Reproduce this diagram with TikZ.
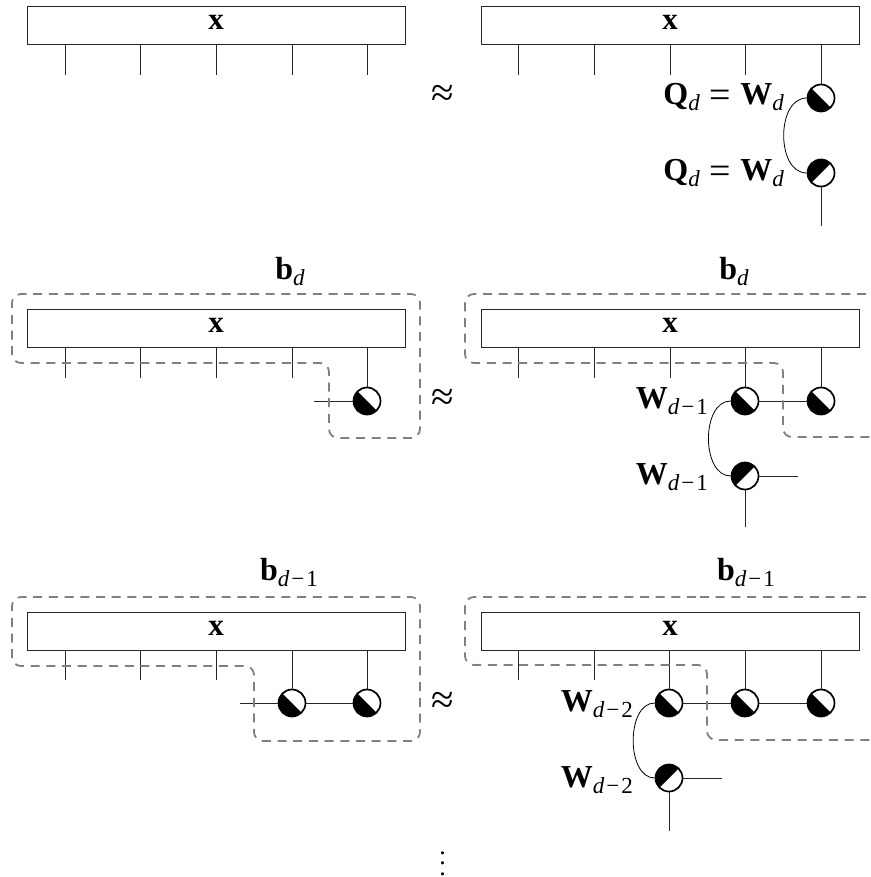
\documentclass[tikz,border=0pt]{standalone}
\usepackage{fontspec}
\usepackage{graphicx}
\setmainfont{Liberation Serif}
\usetikzlibrary{calc}
\newcommand{\sbs}[1]{\raisebox{-6pt}{\fontsize{23}{23}\selectfont #1}}
\newcommand{\dsub}{\textit{d}}
\newcommand{\dm}[1]{\textit{d}\kern2pt−\kern2pt#1}
\newcommand{\Qd}{\textbf{Q}\sbs{\dsub}\kern10pt\raisebox{-2.4pt}{\fontsize{38}{38}\selectfont=}\kern9pt\textbf{W}\sbs{\dsub}}
\newcommand{\Wsub}[1]{\textbf{W}\sbs{\dm{#1}}}
\tikzset{
  x=1pt,y=-1pt,
  wire/.style={line width=1pt,black!85},
  tensorbox/.style={draw=black!85,line width=1pt,minimum width=378pt,minimum height=38pt,inner sep=0pt,text height=12pt,text depth=4pt,font=\fontsize{31}{31}\selectfont\bfseries},
  isodown/.style={circle,draw,line width=1.7pt,minimum size=27pt,inner sep=0pt,fill=white,
    path picture={\fill[black] (path picture bounding box.north west)--(path picture bounding box.south east)--(path picture bounding box.south west)--cycle;}},
  isoup/.style={circle,draw,line width=1.7pt,minimum size=27pt,inner sep=0pt,fill=white,
    path picture={\fill[black] (path picture bounding box.south west)--(path picture bounding box.north east)--(path picture bounding box.north west)--cycle;}},
  region/.style={draw=black!50,line width=1.8pt,dash pattern=on 9pt off 6.7pt,rounded corners=9pt},
  lab/.style={inner sep=0pt,font=\fontsize{32}{32}\selectfont},
  approx/.style={inner sep=0pt,font=\fontsize{41}{41}\selectfont},
  tie/.style={line width=0.8pt,black}
}
\begin{document}
\begin{tikzpicture}
\useasboundingbox (0,0) rectangle (870,877);
\clip (0,0) rectangle (870,877);
% row 1
\node[tensorbox] (a) at (216,26) {x};
\node[tensorbox] (b) at (670,26) {x};
\foreach \n/\x in {a1/65,a2/140,a3/216,a4/292,a5/367}{\coordinate (\n) at (\x,75);\draw[wire] (\n) -- (\n |- a.south);}
\foreach \n/\x in {b1/518,b2/594,b3/670,b4/745}{\coordinate (\n) at (\x,75);\draw[wire] (\n) -- (\n |- b.south);}
\node[isodown] (b5) at (821,98) {};
\node[isoup] (b6) at (821,173) {};
\coordinate (b7) at (821,226);
\draw[wire] (b5) -- (b5 |- b.south);
\draw[wire] (b6) -- (b7);
\draw[tie] (b5.west) .. controls (776,98) and (776,173) .. (b6.west);
\node[lab,anchor=base east] (q1) at (784,105) {\Qd};
\node[lab,anchor=base east] (q2) at (784,181) {\Qd};
\node[approx] (ap1) at (443,96) {≈};
% row 2
\node[tensorbox] (c) at (216,328) {x};
\node[tensorbox] (d) at (670,328) {x};
\foreach \n/\x in {c1/65,c2/140,c3/216,c4/292}{\coordinate (\n) at (\x,378);\draw[wire] (\n) -- (\n |- c.south);}
\node[isodown] (c5) at (367,401) {};
\coordinate (c6) at (314,401);
\draw[wire] (c5) -- (c5 |- c.south);
\draw[wire] (c5) -- (c6);
\foreach \n/\x in {d1/518,d2/594,d3/670}{\coordinate (\n) at (\x,378);\draw[wire] (\n) -- (\n |- d.south);}
\node[isodown] (d4) at (745,401) {};
\node[isodown] (d5) at (821,401) {};
\node[isoup] (d6) at (745,476) {};
\coordinate (d7) at (745,527);
\coordinate (d8) at (798,476);
\draw[wire] (d4) -- (d4 |- d.south);
\draw[wire] (d5) -- (d5 |- d.south);
\draw[wire] (d4) -- (d5);
\draw[wire] (d6) -- (d7);
\draw[wire] (d6) -- (d8);
\draw[tie] (d4.west) .. controls (701,401) and (701,476) .. (d6.west);
\node[lab,anchor=base east] (w1) at (708,408) {\Wsub{1}};
\node[lab,anchor=base east] (w2) at (708,484) {\Wsub{1}};
\node[approx] (ap2) at (443,400) {≈};
\node[lab,anchor=base] (bd1) at (290,279) {\textbf{b}\sbs{\dsub}};
\node[lab,anchor=base] (bd2) at (734,279) {\textbf{b}\sbs{\dsub}};
\draw[region] (250,294) -- (420,294) -- (420,438) -- (329,438) -- (329,363) -- (12,363) -- (12,294) -- (250,294);
\draw[region] (700,294) -- (885,294) (885,437) -- (783,437) -- (783,363) -- (465,363) -- (465,294) -- (700,294);
% row 3
\node[tensorbox] (e) at (216,631) {x};
\node[tensorbox] (f) at (670,631) {x};
\foreach \n/\x in {e1/65,e2/140,e3/216}{\coordinate (\n) at (\x,680);\draw[wire] (\n) -- (\n |- e.south);}
\node[isodown] (e4) at (292,703) {};
\node[isodown] (e5) at (367,703) {};
\coordinate (e6) at (240,703);
\draw[wire] (e4) -- (e4 |- e.south);
\draw[wire] (e5) -- (e5 |- e.south);
\draw[wire] (e6) -- (e4);
\draw[wire] (e4) -- (e5);
\foreach \n/\x in {f1/518,f2/594}{\coordinate (\n) at (\x,680);\draw[wire] (\n) -- (\n |- f.south);}
\node[isodown] (f3) at (669,703) {};
\node[isodown] (f4) at (745,703) {};
\node[isodown] (f5) at (821,703) {};
\node[isoup] (f6) at (669,778) {};
\coordinate (f7) at (669,831);
\coordinate (f8) at (722,778);
\draw[wire] (f3) -- (f3 |- f.south);
\draw[wire] (f4) -- (f4 |- f.south);
\draw[wire] (f5) -- (f5 |- f.south);
\draw[wire] (f3) -- (f4);
\draw[wire] (f4) -- (f5);
\draw[wire] (f6) -- (f7);
\draw[wire] (f6) -- (f8);
\draw[tie] (f3.west) .. controls (626,703) and (626,778) .. (f6.west);
\node[lab,anchor=base east] (w3) at (633,711) {\Wsub{2}};
\node[lab,anchor=base east] (w4) at (633,787) {\Wsub{2}};
\node[approx] (ap3) at (443,703) {≈};
\node[lab,anchor=base] (bd3) at (289,580) {\textbf{b}\sbs{\dm{1}}};
\node[lab,anchor=base] (bd4) at (746,580) {\textbf{b}\sbs{\dm{1}}};
\draw[region] (250,597) -- (420,597) -- (420,741) -- (254,741) -- (254,666) -- (12,666) -- (12,597) -- (250,597);
\draw[region] (700,597) -- (885,597) (885,740) -- (707,740) -- (707,665) -- (465,665) -- (465,597) -- (700,597);
\node[inner sep=0pt] (dots) at (442.5,856) {\scalebox{2.6}{$\vdots$}};
\end{tikzpicture}
\end{document}
